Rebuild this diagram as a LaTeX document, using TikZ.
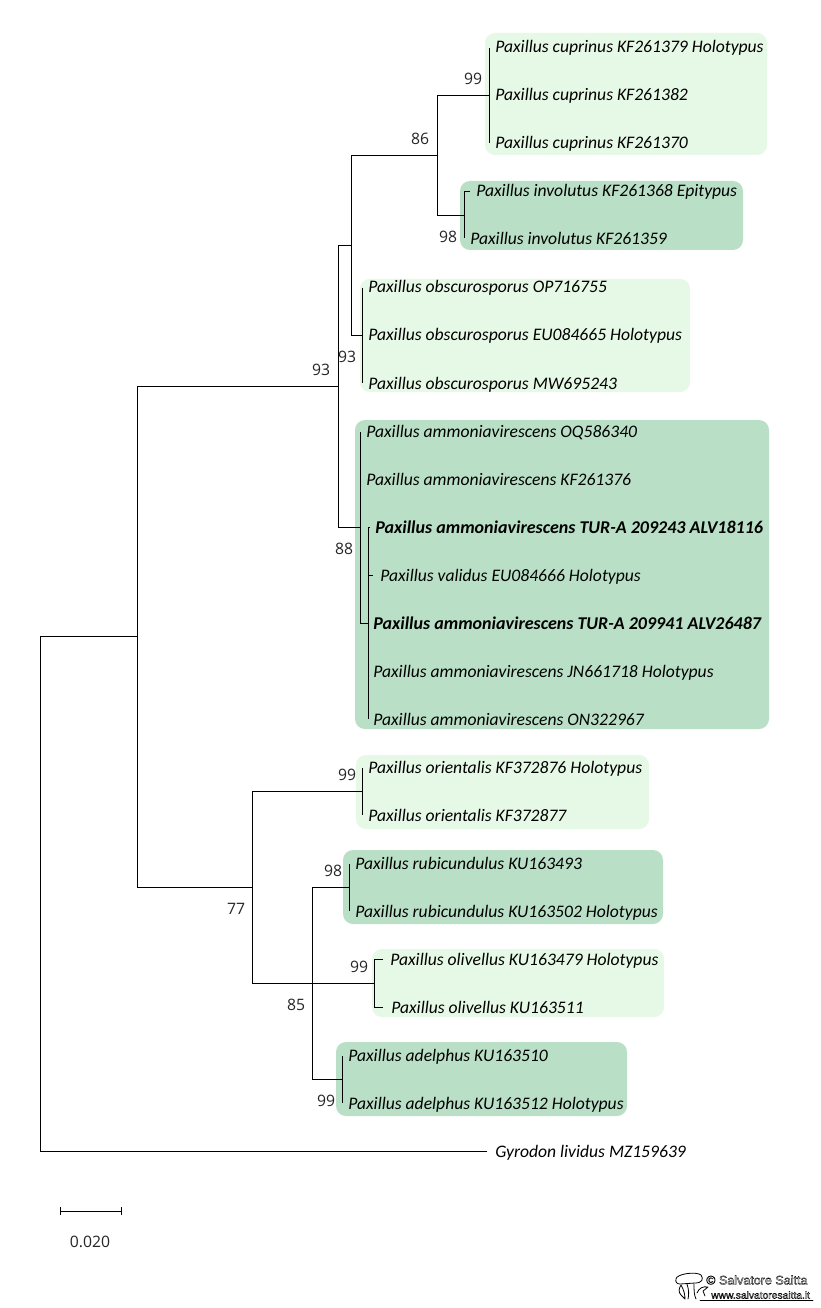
\documentclass[tikz,border=0pt]{standalone}
\usepackage{fontspec}
\setmainfont{Carlito}
\newfontfamily\numfont{Open Sans}
\newfontfamily\wmfont{Liberation Sans}
\definecolor{paleg}{HTML}{E6F8E6}
\definecolor{deepg}{HTML}{B9E0C6}
\tikzset{
 taxon/.style={anchor=base west,inner sep=0pt,yshift=-4.5pt,font=\fontsize{13.2pt}{15pt}\selectfont\itshape},
 boldtaxon/.style={anchor=base west,inner sep=0pt,yshift=-4.5pt,font=\fontsize{13.5pt}{15pt}\selectfont\itshape\bfseries},
 boot/.style={inner sep=0pt,yshift=-0.4pt,font=\numfont\fontsize{11.8pt}{13pt}\selectfont\color{black!85}},
 branch/.style={line width=0.72pt,black},
 palebox/.style={fill=paleg,draw=none,rounded corners=7.5pt},
 deepbox/.style={fill=deepg,draw=none,rounded corners=7.5pt},
 wmline/.style={line width=0.6pt,black,line cap=round,line join=round}
}
\begin{document}
\begin{tikzpicture}[x=0.75pt,y=-0.75pt]
\useasboundingbox (0,0) rectangle (820,1308);
\fill[white] (0,0) rectangle (820,1308);
% clade backgrounds
\fill[palebox] (485,33) rectangle (767,155);
\fill[deepbox] (460,181) rectangle (743,250);
\fill[palebox] (360,279) rectangle (690,392);
\fill[deepbox] (355,420) rectangle (769,729);
\fill[palebox] (356,755) rectangle (649,829);
\fill[deepbox] (343,850) rectangle (663,924);
\fill[palebox] (372,949) rectangle (664,1017);
\fill[deepbox] (336,1042) rectangle (627,1116);
% named internal nodes
\foreach \n/\x/\y in {root/40/636,a/137/636,a1/137/386,a2/137/887,b/338/386,b1/338/245,b2/338/527,
 c/351/245,c1/351/155,c2/351/335,d/437/155,d1/437/95,d2/437/215,
 cup/489/95,cupt/489/48,cupb/489/143,
 inv/464/215,invt/464/191,invb/464/238,invtt/470/191,
 obs/362/335,obst/362/288,obsb/362/383,
 amm/360/527,ammt/360/432,ammb/360/623,
 am2/368/623,am2t/368/527,am2b/368/719,am2tt/370/527,am2v/368/575,am2vv/373/575,
 e/252/887,e1/252/791,e2/252/983,
 ori/362/791,orit/362/768,orib/362/815,
 oli/374/983,olit/374/959,olib/374/1007,olitt/383/959,olibb/383/1007,
 f/312/983,f1/312/887,f2/312/1079,
 rub/349/887,rubt/349/864,rubb/349/911,
 ade/342/1079,adet/342/1056,adeb/342/1103,
 rootb/40/1151,gyr/487/1151,
 sl/60/1211,sr/121/1211,slt/60/1207,slb/60/1215,srt/121/1207,srb/121/1215}
 {\coordinate (\n) at (\x,\y);}
% tree
\draw[branch,line cap=rect] (gyr) -- (rootb) -- (root) -- (a);
\draw[branch] (b) -- (a1) -- (a2) -- (e);
\draw[branch] (c) -- (b1) -- (b2) -- (amm);
\draw[branch] (d) -- (c1) -- (c2) -- (obs);
\draw[branch] (cup) -- (d1) -- (d2) -- (inv);
\draw[branch] (cupt) -- (cupb);
\draw[branch] (invtt) -- (invt) -- (invb);
\draw[branch] (obst) -- (obsb);
\draw[branch] (ammt) -- (ammb) -- (am2);
\draw[branch] (am2tt) -- (am2t) -- (am2b);
\draw[branch] (am2v) -- (am2vv);
\draw[branch] (ori) -- (e1) -- (e2) -- (oli);
\draw[branch] (orit) -- (orib);
\draw[branch] (olitt) -- (olit) -- (olib) -- (olibb);
\draw[branch] (rub) -- (f1) -- (f2) -- (ade);
\draw[branch] (rubt) -- (rubb);
\draw[branch] (adet) -- (adeb);
% taxa
\node[taxon] (t1) at (495,47) {Paxillus cuprinus KF261379 Holotypus};
\node[taxon] (t2) at (495,95) {Paxillus cuprinus KF261382};
\node[taxon] (t3) at (495,143) {Paxillus cuprinus KF261370};
\node[taxon] (t4) at (476,191) {Paxillus involutus KF261368 Epitypus};
\node[taxon] (t5) at (470,239) {Paxillus involutus KF261359};
\node[taxon] (t6) at (368,287) {Paxillus obscurosporus OP716755};
\node[taxon] (t7) at (368,335) {Paxillus obscurosporus EU084665 Holotypus};
\node[taxon] (t8) at (368,383) {Paxillus obscurosporus MW695243};
\node[taxon] (t9) at (366,431) {Paxillus ammoniavirescens OQ586340};
\node[taxon] (t10) at (366,479) {Paxillus ammoniavirescens KF261376};
\node[boldtaxon] (t11) at (375,527) {Paxillus ammoniavirescens TUR-A 209243 ALV18116};
\node[taxon] (t12) at (380,575) {Paxillus validus EU084666 Holotypus};
\node[boldtaxon] (t13) at (373,623) {Paxillus ammoniavirescens TUR-A 209941 ALV26487};
\node[taxon] (t14) at (373,671) {Paxillus ammoniavirescens JN661718 Holotypus};
\node[taxon] (t15) at (373,719) {Paxillus ammoniavirescens ON322967};
\node[taxon] (t16) at (368,767) {Paxillus orientalis KF372876 Holotypus};
\node[taxon] (t17) at (368,815) {Paxillus orientalis KF372877};
\node[taxon] (t18) at (355,863) {Paxillus rubicundulus KU163493};
\node[taxon] (t19) at (355,911) {Paxillus rubicundulus KU163502 Holotypus};
\node[taxon] (t20) at (390,959) {Paxillus olivellus KU163479 Holotypus};
\node[taxon] (t21) at (391,1007) {Paxillus olivellus KU163511};
\node[taxon] (t22) at (348,1055) {Paxillus adelphus KU163510};
\node[taxon] (t23) at (348,1103) {Paxillus adelphus KU163512 Holotypus};
\node[taxon] (t24) at (495,1151) {Gyrodon lividus MZ159639};
% bootstrap
\node[boot] (b1n) at (473,78) {99};
\node[boot] (b2n) at (420,138) {86};
\node[boot] (b3n) at (448,236) {98};
\node[boot] (b4n) at (347,356) {93};
\node[boot] (b5n) at (321,369) {93};
\node[boot] (b6n) at (344,548) {88};
\node[boot] (b7n) at (347,774) {99};
\node[boot] (b8n) at (333,870) {98};
\node[boot] (b9n) at (359,966) {99};
\node[boot] (b10n) at (236,908) {77};
\node[boot] (b11n) at (296,1004) {85};
\node[boot] (b12n) at (326,1100) {99};
% scale
\draw[branch] (sl) -- (sr);
\draw[branch] (slt) -- (slb);
\draw[branch] (srt) -- (srb);
\node[boot] (sc) at (90,1241) {0.020};
% watermark
\draw[wmline,fill=white] (676,1279) .. controls (676,1274) and (696,1271) .. (701,1275) .. controls (704,1279) and (702,1283) .. (695,1283) -- (680,1284) .. controls (677,1284) and (675,1282) .. (676,1279) -- cycle;
\draw[wmline] (687,1284) .. controls (689,1290) and (689,1295) .. (688,1299);
\draw[wmline] (694,1284) .. controls (694,1290) and (694,1295) .. (696,1299);
\draw[wmline] (681,1285) .. controls (684,1290) and (685,1295) .. (685,1299) -- (681,1295) .. controls (678,1292) and (679,1288) .. (681,1285);
\draw[wmline] (697,1293) .. controls (699,1288) and (703,1286) .. (708,1287) -- (703,1291) -- (705,1296);
\draw[wmline] (700,1300) -- (813,1300);
\node[inner sep=0pt,anchor=west,font=\fontsize{9.4pt}{10pt}\selectfont] (wm0) at (706,1280) {\special{pdf:code 1 Tr 0.25 w}\wmfont\copyright\ Salvatore Saitta};
\node[inner sep=0pt,anchor=west,font=\fontsize{7.7pt}{9pt}\selectfont] (wm1) at (711,1295) {\special{pdf:code 1 Tr 0.25 w}\wmfont www.salvatoresaitta.it\special{pdf:code 0 Tr}};
\end{tikzpicture}
\end{document}
